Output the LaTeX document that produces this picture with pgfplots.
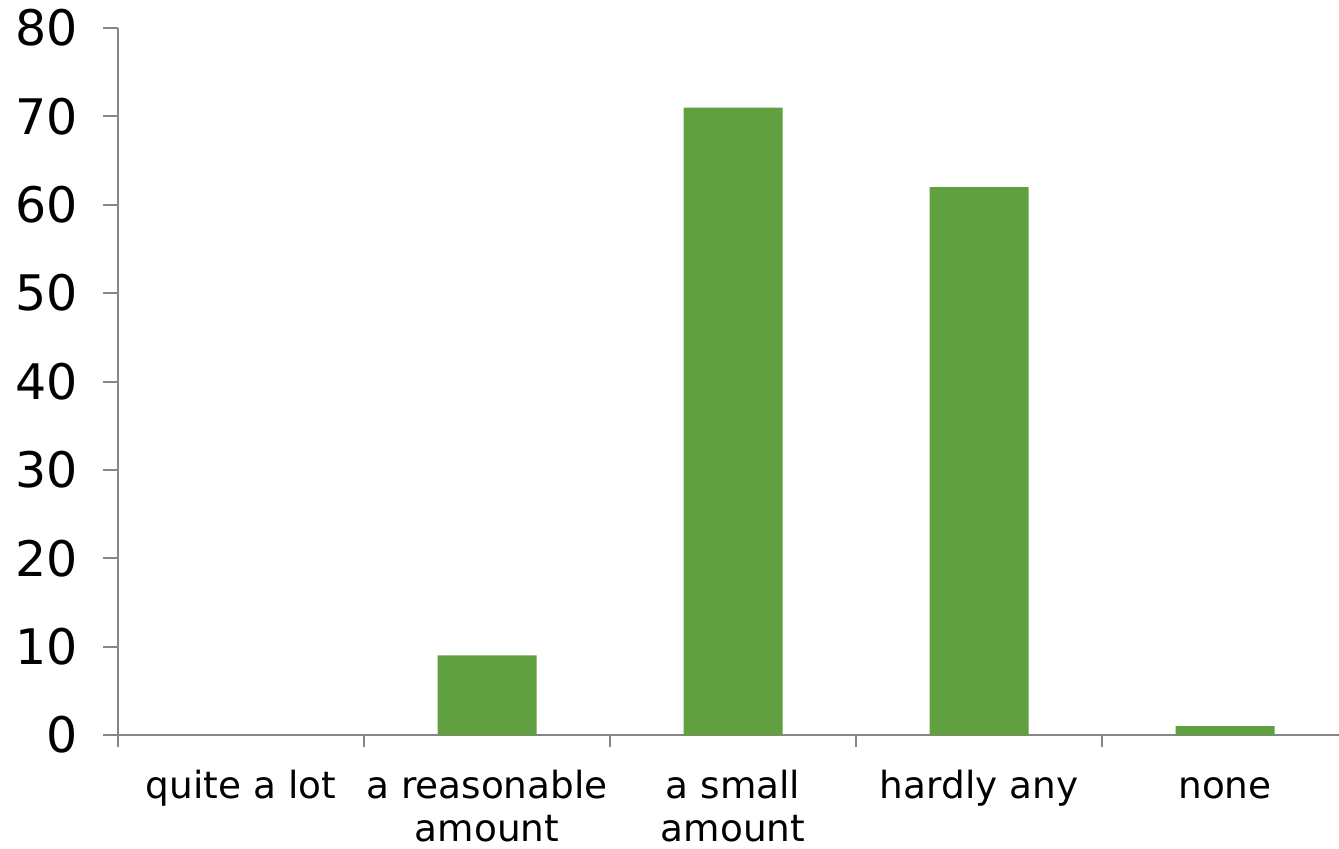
\documentclass[border=0pt]{standalone}
\usepackage{pgfplots}
\pgfplotsset{compat=1.18}
\usepackage{fontspec}
\setmainfont{DejaVu Sans}
\definecolor{bargreen}{RGB}{96,160,64}
\definecolor{axisgray}{RGB}{134,134,134}
\begin{document}
\begin{tikzpicture}
\useasboundingbox (-59pt,-56.5pt) rectangle (610.5pt,367.5pt);
\begin{axis}[
  at={(0,0)}, anchor=south west,
  scale only axis,
  width=615pt, height=353.5pt,
  xmin=-0.5, xmax=4.5,
  ymin=0, ymax=80,
  axis lines*=left,
  axis line style={axisgray, line width=1pt},
  ytick={0,10,...,80},
  xtick={-0.5,0.5,1.5,2.5,3.5,4.5},
  x tick label as interval,
  xticklabels={\strut quite a lot, \strut a reasonable\\amount, \strut a small\\amount, \strut hardly any, \strut none},
  tick align=outside,
  xtick style={axisgray, line width=1pt, /pgfplots/major tick length=6pt},
  ytick style={axisgray, line width=1pt, /pgfplots/major tick length=7.5pt},
  /pgf/number format/assume math mode=true,
  yticklabel style={font=\fontsize{24.5}{29}\selectfont, xshift=-12.5pt},
  xticklabel style={font=\fontsize{18.7}{21.5}\selectfont, align=center, anchor=north, yshift=-9pt},
  clip=false,
]
\addplot[ybar, bar width=49.5pt, fill=bargreen, draw=none] coordinates {(0,0) (1,9) (2,71) (3,62) (4,1)};
\end{axis}
\end{tikzpicture}
\end{document}
